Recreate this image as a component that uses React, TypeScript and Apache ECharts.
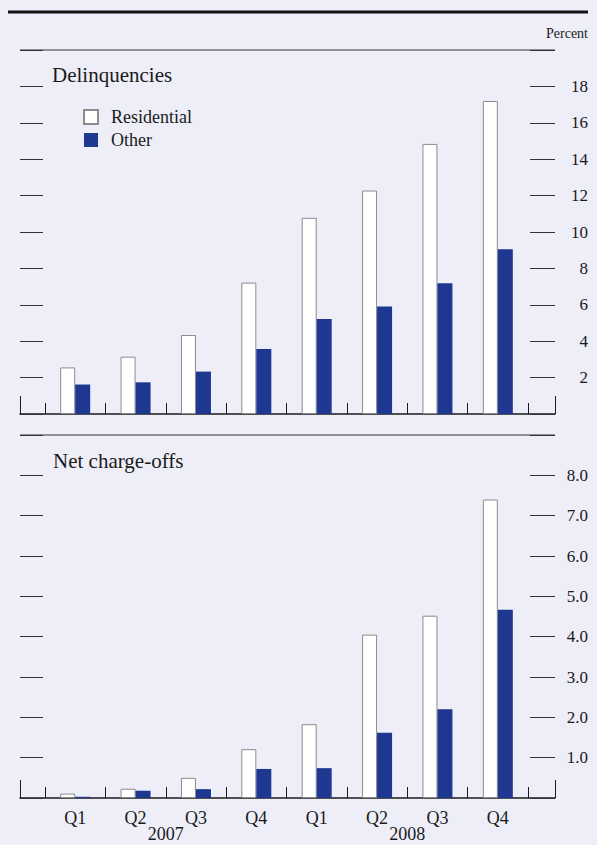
import React, { useEffect, useRef } from 'react';
import * as echarts from 'echarts';

const quarters = ['Q1', 'Q2', 'Q3', 'Q4', 'Q1', 'Q2', 'Q3', 'Q4'];
const years = ['2007', '2008'];
const delinqResidential = [2.56, 3.15, 4.34, 7.22, 10.78, 12.28, 14.84, 17.2];
const delinqOther = [1.62, 1.74, 2.33, 3.57, 5.22, 5.91, 7.18, 9.05];
const chargeoffResidential = [0.11, 0.23, 0.5, 1.21, 1.83, 4.05, 4.52, 7.4];
const chargeoffOther = [0.03, 0.18, 0.22, 0.72, 0.74, 1.62, 2.2, 4.67];
const delinqMax = 20;
const delinqStep = 2;
const chargeoffMax = 9;
const chargeoffStep = 1;

export default function App() {
  const ref = useRef<HTMLDivElement>(null);

  useEffect(() => {
    const chart = echarts.init(ref.current!, null, { renderer: 'svg' });
    const font = "'Liberation Serif', 'Times New Roman', serif";
    const ink = '#1a1a1a';
    const tickColor = '#333333';
    const whiteStyle = { color: '#ffffff', borderColor: '#8c8c8c', borderWidth: 1 };
    const blueStyle = { color: '#1e3791' };

    const topPanel = { top: 50, height: 364 };
    const botPanel = { top: 435, height: 363 };

    const barGrid = (p: any) => ({ left: 45, right: 69, top: p.top, height: p.height });
    const frameGrid = (p: any) => ({ left: 20, right: 42, top: p.top, height: p.height });

    const frameX = (gi: number) => ({
      gridIndex: gi,
      type: 'value',
      min: 0,
      max: 1,
      interval: 1,
      axisLine: { show: true, lineStyle: { color: ink, width: 1.5 } },
      axisTick: { show: true, inside: true, length: 18, lineStyle: { color: ink, width: 1 } },
      axisLabel: { show: false },
      splitLine: { show: false },
    });

    const quarterX = (gi: number, showLabels: boolean) => ({
      gridIndex: gi,
      type: 'category',
      data: quarters,
      position: 'bottom',
      axisLine: { show: false },
      axisTick: {
        show: true,
        inside: true,
        length: 11,
        interval: 0,
        alignWithLabel: false,
        lineStyle: { color: ink, width: 1 },
      },
      axisLabel: {
        show: showLabels,
        interval: 0,
        margin: 11,
        fontFamily: font,
        fontSize: 18,
        color: ink,
      },
      splitLine: { show: false },
    });

    const hiddenY = (gi: number, max: number) => ({
      gridIndex: gi,
      type: 'value',
      min: 0,
      max,
      show: false,
      splitLine: { show: false },
    });

    const leftY = (gi: number, max: number, step: number) => ({
      gridIndex: gi,
      type: 'value',
      position: 'left',
      min: 0,
      max,
      interval: step,
      axisLine: { show: false },
      axisTick: { show: true, inside: true, length: 23, lineStyle: { color: tickColor, width: 1 } },
      axisLabel: { show: false },
      splitLine: { show: false },
    });

    const rightY = (gi: number, max: number, step: number, digits: number) => ({
      gridIndex: gi,
      type: 'value',
      position: 'right',
      min: 0,
      max,
      interval: step,
      axisLine: { show: false },
      axisTick: { show: true, inside: true, length: 25, lineStyle: { color: tickColor, width: 1 } },
      axisLabel: {
        show: true,
        align: 'right',
        margin: 33,
        fontFamily: font,
        fontSize: 17,
        color: ink,
        formatter: (v: number) => (v <= 0 || v >= max ? '' : v.toFixed(digits)),
      },
      splitLine: { show: false },
    });

    const option: any = {
      animation: false,
      backgroundColor: '#edeef8',
      grid: [barGrid(topPanel), frameGrid(topPanel), barGrid(botPanel), frameGrid(botPanel)],
      xAxis: [
        quarterX(0, false),
        frameX(1),
        quarterX(2, true),
        frameX(3),
        {
          gridIndex: 2,
          type: 'category',
          data: years,
          position: 'bottom',
          offset: 0,
          axisLine: { show: false },
          axisTick: { show: false },
          axisLabel: { show: true, interval: 0, margin: 27, fontFamily: font, fontSize: 18, color: ink },
          splitLine: { show: false },
        },
      ],
      yAxis: [
        hiddenY(0, delinqMax),
        leftY(1, delinqMax, delinqStep),
        rightY(1, delinqMax, delinqStep, 0),
        hiddenY(2, chargeoffMax),
        leftY(3, chargeoffMax, chargeoffStep),
        rightY(3, chargeoffMax, chargeoffStep, 1),
      ],
      legend: {
        data: ['Residential', 'Other'],
        orient: 'vertical',
        left: 83,
        top: 108,
        padding: 0,
        icon: 'rect',
        itemWidth: 14,
        itemHeight: 14,
        itemGap: 5,
        textStyle: {
          fontFamily: font,
          fontSize: 18,
          color: ink,
          padding: [0, 0, 0, 8],
        },
      },
      series: [
        {
          name: 'Residential', type: 'bar', xAxisIndex: 0, yAxisIndex: 0,
          data: delinqResidential, barWidth: 15, barGap: '0%', itemStyle: whiteStyle,
        },
        {
          name: 'Other', type: 'bar', xAxisIndex: 0, yAxisIndex: 0,
          data: delinqOther, barWidth: 15, barGap: '0%', itemStyle: blueStyle,
        },
        {
          name: 'Residential', type: 'bar', xAxisIndex: 2, yAxisIndex: 3,
          data: chargeoffResidential, barWidth: 15, barGap: '0%', itemStyle: whiteStyle,
        },
        {
          name: 'Other', type: 'bar', xAxisIndex: 2, yAxisIndex: 3,
          data: chargeoffOther, barWidth: 15, barGap: '0%', itemStyle: blueStyle,
        },
      ],
      graphic: [
        { type: 'line', shape: { x1: 8, y1: 12, x2: 588, y2: 12 }, style: { stroke: '#111', lineWidth: 3 } },
        { type: 'line', shape: { x1: 20, y1: 50, x2: 555, y2: 50 }, style: { stroke: '#333', lineWidth: 1 } },
        { type: 'line', shape: { x1: 20, y1: 435, x2: 555, y2: 435 }, style: { stroke: '#333', lineWidth: 1 } },
        {
          type: 'text', x: 588, y: 33,
          style: { text: 'Percent', fontFamily: font, fontSize: 14, fill: ink, textAlign: 'right', textVerticalAlign: 'middle' },
        },
        {
          type: 'text', x: 52, y: 75,
          style: { text: 'Delinquencies', fontFamily: font, fontSize: 21, fill: ink, textAlign: 'left', textVerticalAlign: 'middle' },
        },
        {
          type: 'text', x: 53, y: 461,
          style: { text: 'Net charge-offs', fontFamily: font, fontSize: 21, fill: ink, textAlign: 'left', textVerticalAlign: 'middle' },
        },
      ],
    };

    chart.setOption(option);
    return () => chart.dispose();
  }, []);

  return (
    <div
      ref={ref}
      style={{ position: 'absolute', left: 0, top: 0, width: 597, height: 845 }}
    />
  );
}
